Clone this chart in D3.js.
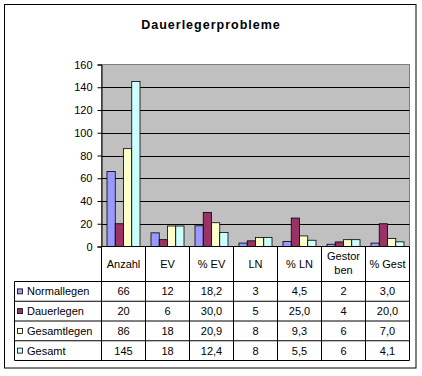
<!DOCTYPE html>
<html lang="de">
<head>
  <meta charset="UTF-8" />
  <title>Dauerlegerprobleme</title>
  <script src="https://d3js.org/d3.v7.min.js"></script>
  <style>
    body { margin: 0; background: #fff; }
    text { font-family: Arial, "Liberation Sans", sans-serif; fill: #000; }
  </style>
</head>
<body>
  <script>
    // data
    const categories = ['Anzahl', 'EV', '% EV', 'LN', '% LN', 'Gestorben', '% Gest'];
    const seriesNames = ['Normallegen', 'Dauerlegen', 'Gesamtlegen', 'Gesamt'];
    const normallegen = [66, 12, 18.2, 3, 4.5, 2, 3.0];
    const dauerlegen = [20, 6, 30.0, 5, 25.0, 4, 20.0];
    const gesamtlegen = [86, 18, 20.9, 8, 9.3, 6, 7.0];
    const gesamt = [145, 18, 12.4, 8, 5.5, 6, 4.1];
    const yTicks = [0, 20, 40, 60, 80, 100, 120, 140, 160];
    const colors = ['#9999FF', '#993366', '#FFFFCC', '#CCFFFF'];

    const series = [normallegen, dauerlegen, gesamtlegen, gesamt];

    const width = 422, height = 376;
    const plot = { left: 101.5, right: 409.5, top: 64.5, bottom: 246.5 };
    const tableLeft = 14.5, headerBottom = 281.5, rowH = 19.75;

    const svg = d3.select('body').append('svg')
      .attr('width', width)
      .attr('height', height);

    // outer frame
    svg.append('rect')
      .attr('x', 4.5).attr('y', 4.5)
      .attr('width', 411.5).attr('height', 363.5)
      .attr('fill', '#fff').attr('stroke', '#000');

    svg.append('text')
      .attr('x', 211).attr('y', 29)
      .attr('text-anchor', 'middle')
      .style('font-size', '12.5px')
      .style('font-weight', 'bold')
      .style('letter-spacing', '1px')
      .text('Dauerlegerprobleme');

    // scales
    const x = d3.scaleBand()
      .domain(categories)
      .range([plot.left, plot.right])
      .paddingInner(0.25)
      .paddingOuter(0.125);
    const xs = d3.scaleBand()
      .domain(seriesNames)
      .range([0, x.bandwidth()]);
    const y = d3.scaleLinear()
      .domain([0, 160])
      .range([plot.bottom, plot.top]);

    // plot area
    svg.append('rect')
      .attr('x', plot.left).attr('y', plot.top)
      .attr('width', plot.right - plot.left).attr('height', plot.bottom - plot.top)
      .attr('fill', '#C0C0C0').attr('stroke', '#808080');

    svg.append('g')
      .selectAll('line')
      .data(yTicks.filter(d => d > 0 && d < 160))
      .join('line')
      .attr('x1', plot.left).attr('x2', plot.right)
      .attr('y1', d => Math.round(y(d)) + 0.5).attr('y2', d => Math.round(y(d)) + 0.5)
      .attr('stroke', '#000');

    // bars
    svg.append('g')
      .selectAll('g')
      .data(series)
      .join('g')
      .attr('fill', (d, i) => colors[i])
      .selectAll('rect')
      .data((vals, si) => vals.map((v, ci) => ({ v, c: categories[ci], s: seriesNames[si] })))
      .join('rect')
      .attr('x', d => x(d.c) + xs(d.s))
      .attr('y', d => y(d.v))
      .attr('width', xs.bandwidth())
      .attr('height', d => y(0) - y(d.v))
      .attr('stroke', '#000')
      .attr('stroke-width', 0.8);

    // y axis
    const yAxis = d3.axisLeft(y)
      .tickValues(yTicks)
      .tickSize(4)
      .tickPadding(5);
    const gy = svg.append('g')
      .attr('transform', `translate(${plot.left},0)`)
      .call(yAxis);
    gy.select('.domain').attr('stroke', '#000');
    gy.selectAll('.tick line').attr('stroke', '#000');
    gy.selectAll('.tick text')
      .style('font-size', '11px')
      .attr('fill', '#000')
      .attr('font-family', 'Arial, "Liberation Sans", sans-serif');

    // data table
    const table = svg.append('g');
    const step = x.step();
    const colEdges = categories.map((c, i) => plot.left + i * step).concat([plot.right]);
    const tableBottom = headerBottom + rowH * seriesNames.length;

    // horizontal lines
    table.append('line')
      .attr('x1', plot.left).attr('x2', plot.right)
      .attr('y1', plot.bottom).attr('y2', plot.bottom)
      .attr('stroke', '#000');
    d3.range(seriesNames.length + 1).forEach(i => {
      table.append('line')
        .attr('x1', tableLeft).attr('x2', plot.right)
        .attr('y1', headerBottom + i * rowH).attr('y2', headerBottom + i * rowH)
        .attr('stroke', '#000');
    });
    // vertical lines
    table.selectAll('.vline')
      .data(colEdges)
      .join('line')
      .attr('class', 'vline')
      .attr('x1', d => d).attr('x2', d => d)
      .attr('y1', plot.bottom).attr('y2', tableBottom)
      .attr('stroke', '#000');
    table.append('line')
      .attr('x1', tableLeft).attr('x2', tableLeft)
      .attr('y1', headerBottom).attr('y2', tableBottom)
      .attr('stroke', '#000');

    // header labels
    table.selectAll('.head')
      .data(categories)
      .join('text')
      .attr('class', 'head')
      .attr('text-anchor', 'middle')
      .style('font-size', '11px')
      .attr('x', d => x(d) + x.bandwidth() / 2)
      .attr('y', 268)
      .each(function (d) {
        const t = d3.select(this);
        if (d === 'Gestorben') {
          t.append('tspan').attr('x', x(d) + x.bandwidth() / 2).attr('y', 260).text('Gestor');
          t.append('tspan').attr('x', x(d) + x.bandwidth() / 2).attr('y', 274).text('ben');
        } else {
          t.text(d);
        }
      });

    const fmt = (v, c) => c.startsWith('%') ? d3.format('.1f')(v).replace('.', ',') : String(v);

    // rows
    const rows = table.selectAll('.row')
      .data(series)
      .join('g')
      .attr('class', 'row')
      .attr('transform', (d, i) => `translate(0,${headerBottom + i * rowH})`);

    rows.append('rect')
      .attr('x', 17.5).attr('y', rowH / 2 - 2.5)
      .attr('width', 5).attr('height', 5)
      .attr('fill', (d, i) => colors[i])
      .attr('stroke', '#000')
      .attr('stroke-width', 0.8);

    rows.append('text')
      .attr('x', 27)
      .attr('y', rowH / 2 + 4)
      .style('font-size', '11px')
      .text((d, i) => seriesNames[i]);

    rows.selectAll('.val')
      .data(d => d)
      .join('text')
      .attr('class', 'val')
      .attr('text-anchor', 'middle')
      .style('font-size', '11px')
      .attr('x', (d, i) => x(categories[i]) + x.bandwidth() / 2)
      .attr('y', rowH / 2 + 4)
      .text((d, i) => fmt(d, categories[i]));
  </script>
</body>
</html>
